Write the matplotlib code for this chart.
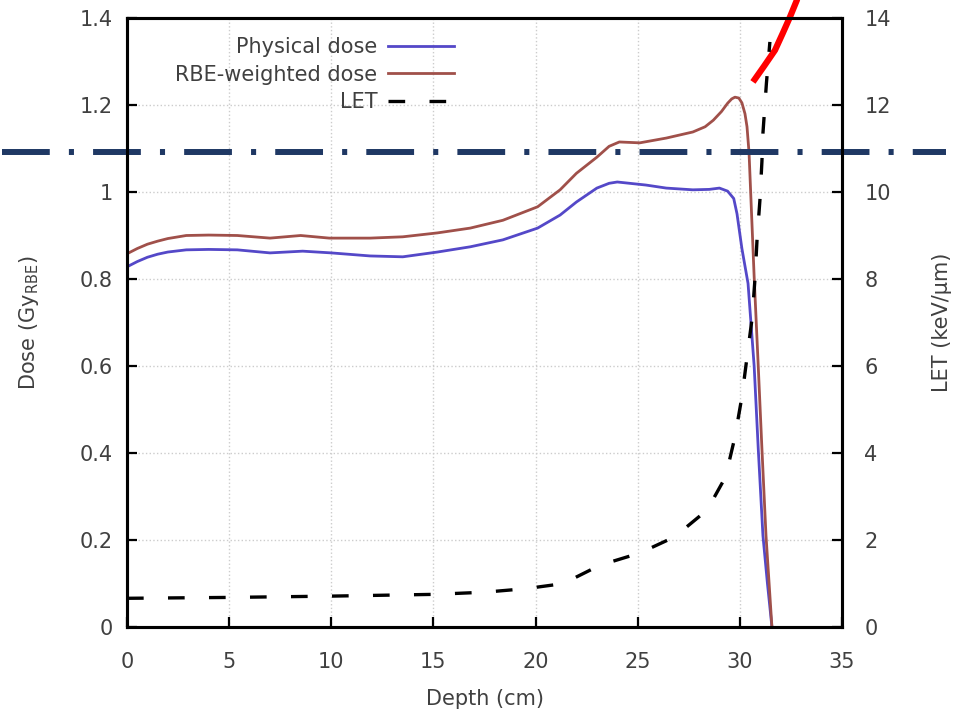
import numpy as np
import matplotlib
matplotlib.use("Agg")
from matplotlib import pyplot as plt
from matplotlib import transforms

# Depth-dose curves
depth_dose = [0, 0.5, 1, 1.5, 2, 2.9, 4.0, 5.4, 7.0, 8.6, 10.0, 11.9, 13.5, 15.2,
              16.8, 18.4, 20.1, 21.2, 22.0, 23.0, 23.6, 24.0, 24.6, 25.4, 26.4,
              27.7, 28.5, 29.0, 29.4, 29.7, 29.86, 30.1, 30.4, 30.7, 30.9, 31.13,
              31.35, 31.57]
physical_dose = [0.828, 0.84, 0.85, 0.857, 0.862, 0.867, 0.868, 0.867, 0.86, 0.864,
                 0.86, 0.853, 0.851, 0.862, 0.874, 0.89, 0.917, 0.947, 0.977, 1.009,
                 1.02, 1.023, 1.02, 1.016, 1.009, 1.005, 1.006, 1.009, 1.002, 0.985,
                 0.95, 0.87, 0.79, 0.6, 0.41, 0.21, 0.1, 0.0]

depth_rbe = [0, 0.5, 1, 1.5, 2, 2.9, 4.0, 5.4, 7.0, 8.5, 9.9, 11.9, 13.5, 15.2,
             16.8, 18.4, 20.1, 21.2, 22.0, 23.0, 23.6, 24.1, 25.1, 26.4, 27.7,
             28.3, 28.7, 29.1, 29.4, 29.6, 29.76, 29.95, 30.1, 30.25, 30.35, 30.45,
             30.7, 30.9, 31.08, 31.28, 31.57]
rbe_dose = [0.858, 0.87, 0.88, 0.887, 0.893, 0.90, 0.901, 0.90, 0.894, 0.90, 0.894,
            0.894, 0.897, 0.906, 0.917, 0.935, 0.966, 1.005, 1.043, 1.08, 1.105,
            1.115, 1.113, 1.124, 1.138, 1.15, 1.165, 1.185, 1.204, 1.214, 1.218,
            1.216, 1.205, 1.18, 1.15, 1.09, 0.805, 0.6, 0.41, 0.21, 0.0]

depth_let = [0, 5, 10, 15, 17.5, 19.5, 21.4, 22.0, 23.15, 25.1, 26.8, 28.4, 29.3,
             29.76, 30.1, 30.35, 30.6, 30.74, 30.84, 30.98, 31.08, 31.13, 31.3, 31.47]
let_values = [0.66, 0.68, 0.71, 0.75, 0.8, 0.88, 1.0, 1.15, 1.42, 1.7, 2.07, 2.69,
              3.45, 4.37, 5.29, 6.2, 7.1, 8.0, 8.9, 9.8, 10.7, 11.35, 12.5, 13.45]

# Overlay annotations
threshold_dose = 1.092
marker_x = [30.64, 31.18, 31.72, 32.11, 32.45, 32.79, 32.95]
marker_y = [1.253, 1.289, 1.326, 1.366, 1.402, 1.441, 1.47]

x_ticks = [0, 5, 10, 15, 20, 25, 30, 35]
dose_ticks = [0, 0.2, 0.4, 0.6, 0.8, 1, 1.2, 1.4]
dose_labels = ["0", "0.2", "0.4", "0.6", "0.8", "1", "1.2", "1.4"]
let_ticks = [0, 2, 4, 6, 8, 10, 12, 14]

TEXT = "#404040"
BLUE = "#5448c8"
BROWN = "#a0504a"

plt.rcParams['font.family'] = ['DejaVu Sans']

fig = plt.figure(figsize=(9.61, 7.15), dpi=100)
ax = fig.add_axes([127 / 961, 1 - 627 / 715, 715 / 961, 609 / 715])
ax2 = ax.twinx()

l1, = ax.plot(depth_dose, physical_dose, color=BLUE, lw=2.0, label="Physical dose")
l2, = ax.plot(depth_rbe, rbe_dose, color=BROWN, lw=2.0, label="RBE-weighted dose")
l3, = ax2.plot(depth_let, let_values, color="black", lw=2.4, dashes=(5.0, 7.3),
               label="LET")

ax.set_xlim(0, 35)
ax.set_ylim(0, 1.4)
ax2.set_ylim(0, 14)
ax.set_xticks(x_ticks)
ax.set_yticks(dose_ticks)
ax.set_yticklabels(dose_labels)
ax2.set_yticks(let_ticks)

ax.grid(True, color="#cccccc", linestyle=":", lw=1.0)
ax.set_axisbelow(True)

for a in (ax, ax2):
    for s in a.spines.values():
        s.set_linewidth(2.2)
ax.tick_params(axis="both", direction="in", length=7, width=1.6, labelsize=15,
               labelcolor=TEXT, top=False, right=False)
ax.tick_params(axis="x", pad=18)
ax.tick_params(axis="y", pad=10)
ax2.tick_params(axis="y", direction="in", length=7, width=1.6, labelsize=15,
                labelcolor=TEXT, pad=16)

ax.set_xlabel("Depth (cm)", fontsize=15, color=TEXT, labelpad=12)
ax.set_ylabel("Dose (Gy$_{\\mathrm{RBE}}$)", fontsize=15, color=TEXT, labelpad=28)
ax2.set_ylabel("LET (keV/µm)", fontsize=15, color=TEXT, labelpad=30)

leg = ax.legend(handles=[l1, l2, l3], loc="upper right", bbox_to_anchor=(0.458, 0.968),
                frameon=False, markerfirst=False, fontsize=15, handlelength=3.2,
                handletextpad=0.5, labelspacing=0.35, borderpad=0, borderaxespad=0)
for t in leg.get_texts():
    t.set_color(TEXT)

# dash-dot reference line across the whole figure
trans = transforms.blended_transform_factory(fig.transFigure, ax.transData)
ax.plot([0.002, 0.984], [threshold_dose, threshold_dose], transform=trans,
        color="#1f3864", lw=4.3, dashes=(8.0, 3.2, 0.85, 3.2), clip_on=False, zorder=10)

# red annotation stroke
ax.plot(marker_x, marker_y, color="#ff0000", lw=4.5, solid_capstyle="butt",
        clip_on=False, zorder=11)

fig.savefig("out.png", dpi=100)
